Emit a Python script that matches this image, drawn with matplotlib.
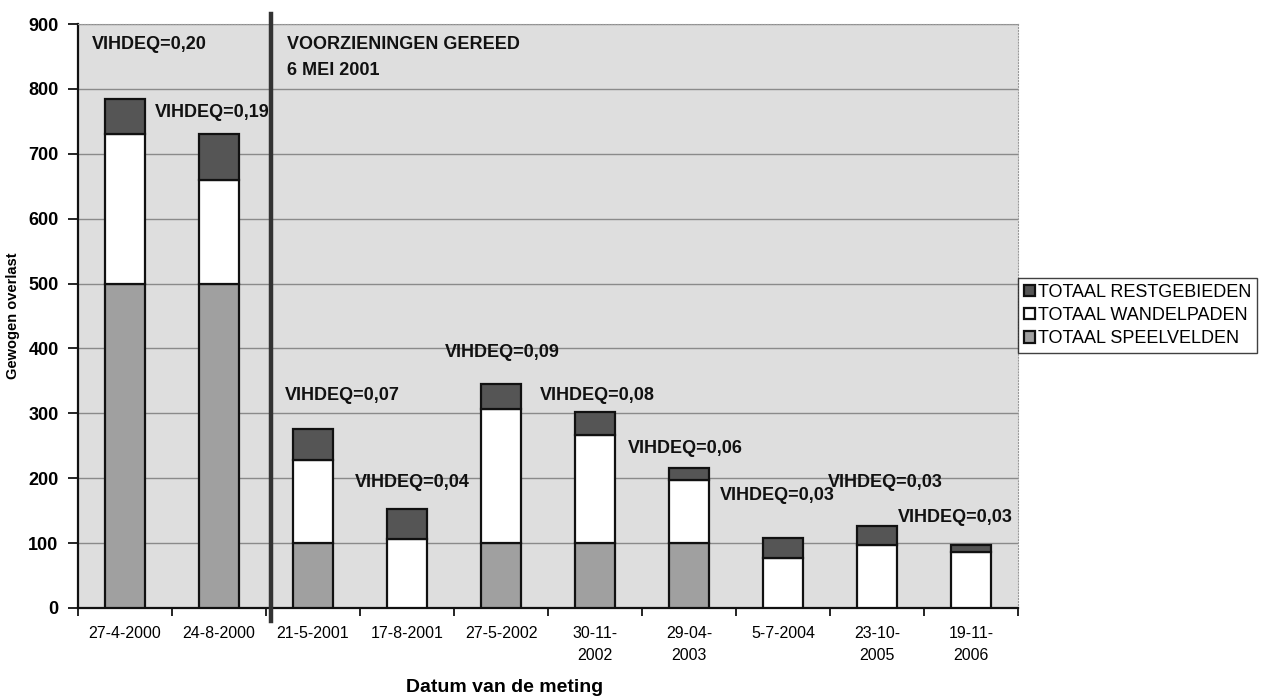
import matplotlib
matplotlib.use("Agg")
import matplotlib.pyplot as plt
import numpy as np

dates = ["27-4-2000", "24-8-2000", "21-5-2001", "17-8-2001", "27-5-2002",
         "30-11-\n2002", "29-04-\n2003", "5-7-2004", "23-10-\n2005", "19-11-\n2006"]
speelvelden = [500, 500, 100, 0, 100, 100, 100, 0, 0, 0]
wandelpaden = [230, 160, 128, 106, 207, 167, 97, 77, 97, 86]
restgebieden = [54, 70, 48, 47, 38, 35, 19, 31, 29, 11]

labels = ["VIHDEQ=0,20", "VIHDEQ=0,19", "VIHDEQ=0,07", "VIHDEQ=0,04", "VIHDEQ=0,09",
          "VIHDEQ=0,08", "VIHDEQ=0,06", "VIHDEQ=0,03", "VIHDEQ=0,03", "VIHDEQ=0,03"]
label_x = [-0.35, 0.32, 1.70, 2.45, 3.40, 4.41, 5.35, 6.33, 7.48, 8.22]
label_y = [869, 763, 327, 194, 394, 327, 245, 173, 194, 139]

plt.rcParams['font.family'] = ['Liberation Sans', 'DejaVu Sans']

fig = plt.figure(figsize=(12.65, 6.98), dpi=100)
ax = fig.add_axes([0.0617, 0.129, 0.7430, 0.8366])
ax.set_facecolor('#dedede')

x = np.arange(len(dates))
w = 0.42
sp = np.array(speelvelden)
wp = np.array(wandelpaden)
rg = np.array(restgebieden)
b1 = ax.bar(x, sp, w, color='#a0a0a0', edgecolor='#111111', linewidth=1.6, zorder=3,
            label='TOTAAL SPEELVELDEN')
b2 = ax.bar(x, wp, w, bottom=sp, color='white', edgecolor='#111111', linewidth=1.6, zorder=3,
            label='TOTAAL WANDELPADEN')
b3 = ax.bar(x, rg, w, bottom=sp + wp, color='#555555', edgecolor='#111111', linewidth=1.6, zorder=3,
            label='TOTAAL RESTGEBIEDEN')

ax.set_xlim(-0.5, len(dates) - 0.5)
ax.set_ylim(0, 900)
ax.set_yticks(np.arange(0, 901, 100))
ax.yaxis.grid(True, color='#8a8a8a', linewidth=1.0, zorder=0)
ax.set_axisbelow(True)

ax.set_xticks(np.arange(-0.5, len(dates), 1.0))
ax.set_xticklabels([])
ax.set_xticks(x, minor=True)
ax.set_xticklabels(dates, minor=True, fontsize=11.5, linespacing=1.6, va='top')
ax.tick_params(axis='x', which='major', length=6, width=1.2, direction='out')
ax.tick_params(axis='x', which='minor', length=0, pad=13)
ax.tick_params(axis='y', length=7, width=1.2, direction='out', pad=7)
for t in ax.get_yticklabels():
    t.set_fontweight('bold')
    t.set_fontsize(13)

for s in ['left', 'bottom']:
    ax.spines[s].set_color('#111111')
    ax.spines[s].set_linewidth(1.6)
for s in ['top', 'right']:
    ax.spines[s].set_color('#999999')
    ax.spines[s].set_linewidth(0.8)
    ax.spines[s].set_linestyle(':')

ax.set_ylabel('Gewogen overlast', fontsize=10.5, fontweight='bold')
ax.yaxis.set_label_coords(-0.062, 0.5)
ax.set_xlabel('Datum van de meting', fontsize=14, fontweight='bold')
ax.xaxis.set_label_coords(0.454, -0.122)

for lx, ly, lt in zip(label_x, label_y, labels):
    ax.text(lx, ly, lt, fontsize=13, fontweight='bold', va='center', ha='left',
            color='#111111', zorder=4)

ax.text(1.72, 869, 'VOORZIENINGEN GEREED', fontsize=13, fontweight='bold', va='center',
        ha='left', color='#111111', zorder=4)
ax.text(1.72, 829, '6 MEI 2001', fontsize=13, fontweight='bold', va='center',
        ha='left', color='#111111', zorder=4)

ax.plot([1.553, 1.553], [-20, 915], color='#333333', linewidth=3.2, zorder=6, clip_on=False)

handles = [b3, b2, b1]
leg = fig.legend(handles, [h.get_label() for h in handles], loc='center left',
                 bbox_to_anchor=(0.805, 0.548), fontsize=13, frameon=True, fancybox=False,
                 edgecolor='#111111', handlelength=0.6, handleheight=0.6, handletextpad=0.2,
                 borderpad=0.3, labelspacing=0.35, borderaxespad=0.0)
leg.get_frame().set_linewidth(1.0)

fig.savefig('out.png', dpi=100)
